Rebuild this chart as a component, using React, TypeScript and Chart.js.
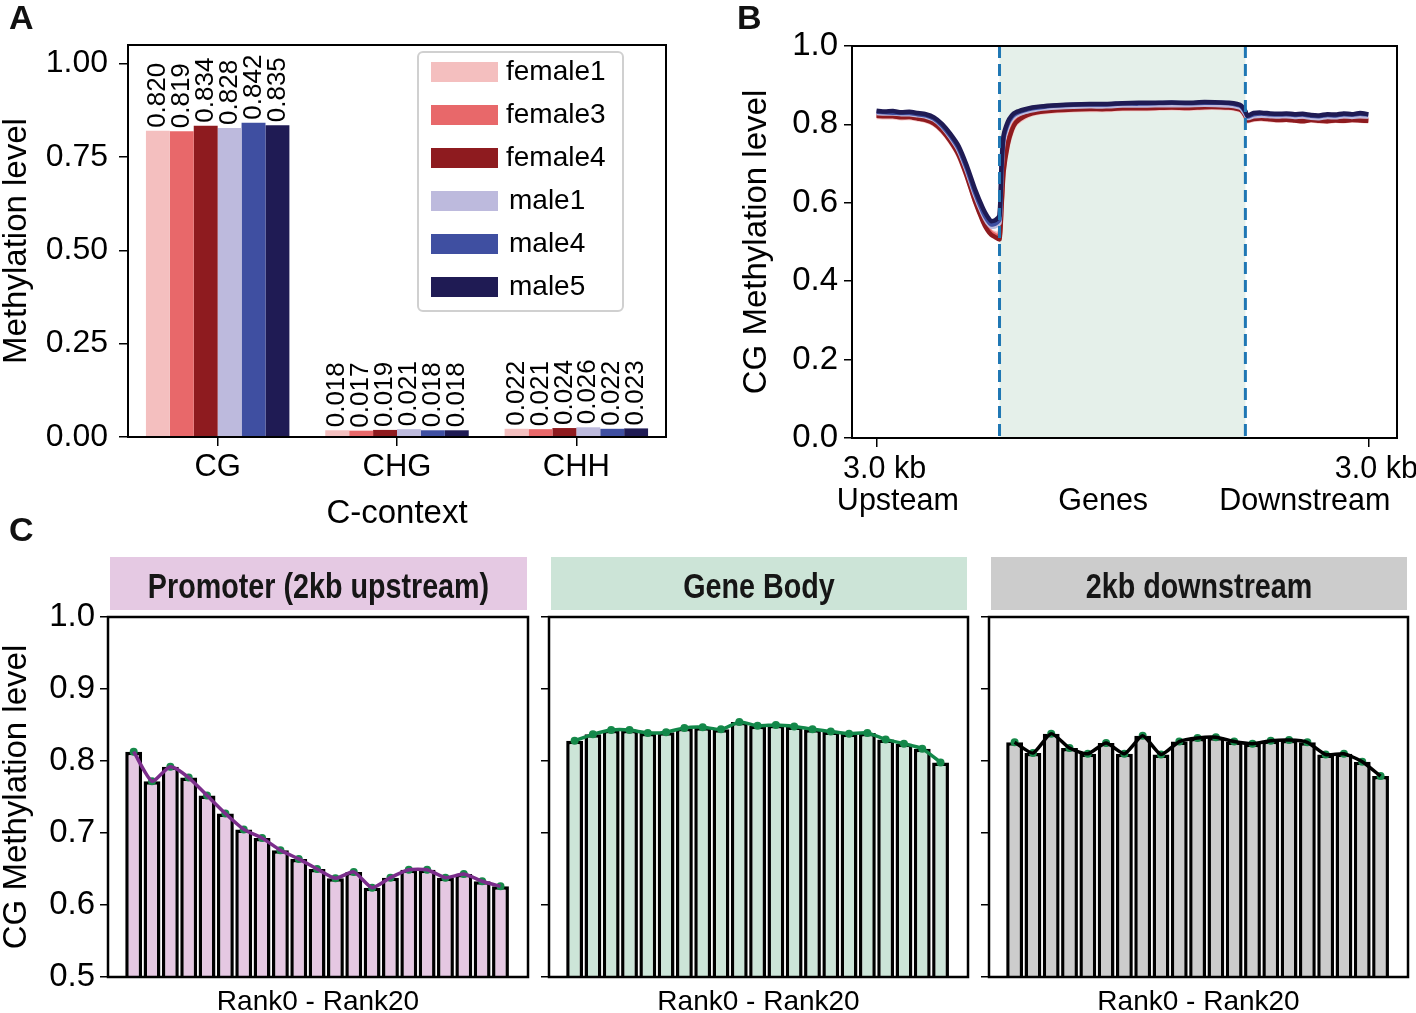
import React, { useEffect, useRef } from "react";
import { Chart, registerables } from "chart.js";

Chart.register(...registerables);

const FONT = "'Liberation Sans', Arial, Helvetica, sans-serif";

// ---------------- Panel A data ----------------
const CONTEXTS = ["CG", "CHG", "CHH"];
const SAMPLES = ["female1", "female3", "female4", "male1", "male4", "male5"];
const SAMPLE_COLORS = ["#f4bfbf", "#e8686a", "#8e1b1f", "#bdbadd", "#3f4fa1", "#1f1b54"];
const FEMALE1 = [0.820, 0.018, 0.022];
const FEMALE3 = [0.819, 0.017, 0.021];
const FEMALE4 = [0.834, 0.019, 0.024];
const MALE1 = [0.828, 0.021, 0.026];
const MALE4 = [0.842, 0.018, 0.022];
const MALE5 = [0.835, 0.018, 0.023];
const A_VALUES = [FEMALE1, FEMALE3, FEMALE4, MALE1, MALE4, MALE5];
const A_YTICKS = [0, 0.25, 0.5, 0.75, 1.0];

// ---------------- Panel B data ----------------
const B_X = [
  0, 2, 4, 6, 8, 10, 12, 14, 16, 18, 20, 22, 24, 26, 27, 28, 29, 30,
  30.5, 31, 32, 33, 34, 36, 38, 40,
  44, 48, 52, 56, 60, 64, 68, 72, 76, 80, 84, 86, 88, 89, 90,
  90.5, 92, 94, 96, 98, 100, 102, 104, 106, 108, 110, 112, 114, 116, 118, 120,
];
const B_FEMALE1 = [
  0.819, 0.818, 0.818, 0.816, 0.816, 0.813, 0.809, 0.800, 0.782, 0.755, 0.720, 0.667, 0.605, 0.555, 0.537, 0.526, 0.522, 0.520,
  0.595, 0.680, 0.745, 0.782, 0.802, 0.817, 0.826, 0.830,
  0.834, 0.836, 0.837, 0.837, 0.839, 0.839, 0.840, 0.841, 0.840, 0.842, 0.842, 0.841, 0.838, 0.834, 0.820,
  0.808, 0.812, 0.813, 0.811, 0.810, 0.811, 0.809, 0.808, 0.810, 0.808, 0.807, 0.809, 0.808, 0.810, 0.809, 0.808,
];
const B_FEMALE3 = [
  0.824, 0.823, 0.822, 0.820, 0.820, 0.817, 0.813, 0.804, 0.786, 0.759, 0.725, 0.672, 0.608, 0.556, 0.536, 0.523, 0.517, 0.512,
  0.600, 0.688, 0.753, 0.789, 0.808, 0.822, 0.830, 0.834,
  0.838, 0.840, 0.840, 0.841, 0.842, 0.843, 0.843, 0.844, 0.844, 0.845, 0.845, 0.844, 0.841, 0.837, 0.823,
  0.812, 0.816, 0.817, 0.815, 0.814, 0.815, 0.813, 0.812, 0.814, 0.812, 0.811, 0.813, 0.812, 0.814, 0.813, 0.812,
];
const B_FEMALE4 = [
  0.822, 0.821, 0.821, 0.818, 0.819, 0.815, 0.811, 0.802, 0.784, 0.757, 0.722, 0.668, 0.604, 0.551, 0.531, 0.518, 0.512, 0.507,
  0.590, 0.680, 0.748, 0.785, 0.805, 0.820, 0.828, 0.832,
  0.836, 0.838, 0.839, 0.839, 0.841, 0.841, 0.842, 0.843, 0.842, 0.844, 0.844, 0.843, 0.840, 0.836, 0.822,
  0.810, 0.814, 0.815, 0.813, 0.811, 0.812, 0.810, 0.808, 0.811, 0.809, 0.808, 0.810, 0.809, 0.811, 0.810, 0.809,
];
const B_MALE1 = [
  0.829, 0.828, 0.828, 0.826, 0.826, 0.823, 0.820, 0.812, 0.794, 0.767, 0.734, 0.682, 0.620, 0.569, 0.550, 0.539, 0.540, 0.549,
  0.680, 0.757, 0.795, 0.814, 0.823, 0.831, 0.836, 0.840,
  0.843, 0.845, 0.846, 0.846, 0.848, 0.848, 0.849, 0.849, 0.849, 0.850, 0.849, 0.848, 0.845, 0.841, 0.826,
  0.816, 0.821, 0.822, 0.821, 0.820, 0.821, 0.819, 0.820, 0.817, 0.816, 0.819, 0.818, 0.821, 0.819, 0.821, 0.820,
];
const B_MALE4 = [
  0.832, 0.831, 0.830, 0.829, 0.829, 0.826, 0.823, 0.815, 0.797, 0.771, 0.739, 0.688, 0.627, 0.576, 0.557, 0.545, 0.547, 0.558,
  0.690, 0.765, 0.801, 0.819, 0.828, 0.836, 0.841, 0.844,
  0.848, 0.850, 0.851, 0.851, 0.853, 0.853, 0.854, 0.855, 0.854, 0.855, 0.855, 0.854, 0.850, 0.846, 0.831,
  0.820, 0.826, 0.828, 0.826, 0.825, 0.826, 0.824, 0.825, 0.822, 0.821, 0.824, 0.823, 0.826, 0.825, 0.827, 0.825,
];
const B_MALE5 = [
  0.835, 0.833, 0.834, 0.831, 0.832, 0.829, 0.826, 0.818, 0.801, 0.776, 0.745, 0.695, 0.635, 0.585, 0.566, 0.553, 0.556, 0.568,
  0.700, 0.772, 0.806, 0.823, 0.831, 0.838, 0.843, 0.846,
  0.849, 0.851, 0.852, 0.852, 0.854, 0.855, 0.855, 0.856, 0.855, 0.857, 0.856, 0.855, 0.852, 0.848, 0.834,
  0.822, 0.829, 0.830, 0.828, 0.827, 0.828, 0.826, 0.827, 0.824, 0.823, 0.826, 0.825, 0.828, 0.826, 0.829, 0.826,
];
const B_SERIES = [B_FEMALE1, B_FEMALE3, B_FEMALE4, B_MALE1, B_MALE4, B_MALE5];
const B_YTICKS = [0, 0.2, 0.4, 0.6, 0.8, 1.0];
const B_XTICKS = [0, 120];
const B_XTICK_LABELS = ["3.0 kb", "3.0 kb"];
const B_GENE_START = 30;
const B_GENE_END = 90;
const B_REGION_POS = [5.2, 55.3, 104.5];
const B_REGION_LABELS = ["Upsteam", "Genes", "Downstream"];

// ---------------- Panel C data ----------------
const RANKS = [0, 1, 2, 3, 4, 5, 6, 7, 8, 9, 10, 11, 12, 13, 14, 15, 16, 17, 18, 19, 20];
const PROMOTER = [0.813, 0.772, 0.792, 0.777, 0.752, 0.727, 0.705, 0.693, 0.676, 0.664, 0.650, 0.637, 0.646, 0.624, 0.638, 0.649, 0.649, 0.638, 0.643, 0.633, 0.626];
const GENE_BODY = [0.828, 0.837, 0.843, 0.843, 0.839, 0.840, 0.846, 0.847, 0.844, 0.854, 0.849, 0.850, 0.848, 0.844, 0.841, 0.838, 0.839, 0.830, 0.824, 0.817, 0.798];
const DOWNSTREAM = [0.826, 0.811, 0.838, 0.818, 0.810, 0.825, 0.810, 0.835, 0.809, 0.827, 0.832, 0.833, 0.827, 0.824, 0.828, 0.829, 0.826, 0.809, 0.810, 0.799, 0.779];
const C_YTICKS = [0.5, 0.6, 0.7, 0.8, 0.9, 1.0];
const C_TITLES = ["Promoter (2kb upstream)", "Gene Body", "2kb downstream"];

// ---------------- plugins ----------------
const framePlugin = {
  id: "frame",
  afterDatasetsDraw(chart: any, _args: any, opts: any) {
    const { ctx, chartArea: a } = chart;
    ctx.save();
    ctx.strokeStyle = "#000";
    ctx.lineWidth = opts.width || 2;
    ctx.strokeRect(a.left, a.top, a.right - a.left, a.bottom - a.top);
    ctx.restore();
  },
};

const aValueLabels = {
  id: "aValueLabels",
  afterDatasetsDraw(chart: any) {
    const { ctx } = chart;
    ctx.save();
    ctx.fillStyle = "#000";
    ctx.font = `26px ${FONT}`;
    ctx.textAlign = "left";
    ctx.textBaseline = "middle";
    chart.data.datasets.forEach((ds: any, di: number) => {
      const meta = chart.getDatasetMeta(di);
      meta.data.forEach((bar: any, j: number) => {
        const v = ds.data[j];
        ctx.save();
        ctx.translate(bar.x, bar.y - 3);
        ctx.rotate(-Math.PI / 2);
        ctx.fillText(v.toFixed(3), 0, 0);
        ctx.restore();
      });
    });
    ctx.restore();
  },
};

const aLegend = {
  id: "aLegend",
  afterDraw(chart: any) {
    const { ctx, chartArea: a } = chart;
    const x0 = a.left + 290;
    const y0 = a.top + 7;
    const w = 205;
    const h = 259;
    ctx.save();
    ctx.fillStyle = "#fff";
    ctx.strokeStyle = "#d0d0d0";
    ctx.lineWidth = 2;
    ctx.beginPath();
    ctx.roundRect(x0, y0, w, h, 5);
    ctx.fill();
    ctx.stroke();
    ctx.font = `28px ${FONT}`;
    ctx.textAlign = "left";
    ctx.textBaseline = "middle";
    chart.data.datasets.forEach((ds: any, i: number) => {
      const cy = y0 + 20 + i * 43;
      ctx.fillStyle = ds.backgroundColor;
      ctx.fillRect(x0 + 13, cy - 10, 67, 20);
      ctx.fillStyle = "#000";
      ctx.fillText(ds.label, x0 + (i >= 3 ? 91 : 88), cy);
    });
    ctx.restore();
  },
};

const bShade = {
  id: "bShade",
  beforeDatasetsDraw(chart: any) {
    const { ctx, chartArea: a } = chart;
    const xs = chart.scales.x;
    const x1 = xs.getPixelForValue(B_GENE_START);
    const x2 = xs.getPixelForValue(B_GENE_END);
    ctx.save();
    ctx.fillStyle = "#e5f0ea";
    ctx.fillRect(x1, a.top, x2 - x1, a.bottom - a.top);
    ctx.restore();
  },
  afterDatasetsDraw(chart: any) {
    const { ctx, chartArea: a } = chart;
    const xs = chart.scales.x;
    ctx.save();
    ctx.strokeStyle = "#1f77b4";
    ctx.lineWidth = 3;
    ctx.setLineDash([12, 6]);
    [B_GENE_START, B_GENE_END].forEach((v) => {
      const x = xs.getPixelForValue(v);
      ctx.beginPath();
      ctx.moveTo(x, a.top);
      ctx.lineTo(x, a.bottom);
      ctx.stroke();
    });
    ctx.restore();
  },
  afterDraw(chart: any) {
    const { ctx, chartArea: a } = chart;
    const xs = chart.scales.x;
    ctx.save();
    ctx.fillStyle = "#000";
    ctx.font = `30.5px ${FONT}`;
    ctx.textAlign = "center";
    ctx.textBaseline = "alphabetic";
    B_XTICKS.forEach((v, i) => {
      ctx.fillText(B_XTICK_LABELS[i], xs.getPixelForValue(v) + 8, a.bottom + 40);
    });
    B_REGION_POS.forEach((v, i) => {
      ctx.fillText(B_REGION_LABELS[i], xs.getPixelForValue(v), a.bottom + 72);
    });
    ctx.restore();
  },
};

const stripPlugin = {
  id: "strip",
  afterDraw(chart: any, _args: any, opts: any) {
    const { ctx, chartArea: a } = chart;
    const x1 = a.left + 2;
    const x2 = a.right - 1;
    const y1 = a.top - 60;
    const y2 = a.top - 7;
    ctx.save();
    ctx.fillStyle = opts.color;
    ctx.fillRect(x1, y1, x2 - x1, y2 - y1);
    ctx.fillStyle = "#161616";
    ctx.font = `bold 35px ${FONT}`;
    ctx.textAlign = "center";
    ctx.textBaseline = "alphabetic";
    ctx.translate((x1 + x2) / 2, (y1 + y2) / 2 + 14);
    ctx.scale(0.82, 1);
    ctx.fillText(opts.text, 0, 0);
    ctx.restore();
  },
};

// ---------------- configs ----------------
function configA(): any {
  return {
    type: "bar",
    data: {
      labels: CONTEXTS,
      datasets: SAMPLES.map((s, i) => ({
        label: s,
        data: A_VALUES[i],
        backgroundColor: SAMPLE_COLORS[i],
        borderWidth: 0,
        barPercentage: 1,
        categoryPercentage: 0.8,
      })),
    },
    plugins: [framePlugin, aValueLabels, aLegend],
    options: {
      responsive: false,
      animation: false,
      devicePixelRatio: 1,
      layout: { padding: { left: 0, right: 34, top: 45, bottom: 0 } },
      plugins: { legend: { display: false }, tooltip: { enabled: false }, frame: { width: 2 } },
      scales: {
        x: {
          offset: true,
          grid: { display: true, drawOnChartArea: false, drawTicks: true, tickLength: 9, offset: false, color: "#000", lineWidth: 1.5 },
          border: { display: false },
          ticks: { color: "#000", font: { family: FONT, size: 31 }, padding: 3 },
          title: { display: true, text: "C-context", color: "#000", font: { family: FONT, size: 33, lineHeight: 1 }, padding: { top: 0, bottom: 10 } },
          afterFit: (s: any) => { s.height = 103; s.paddingLeft = 0; s.paddingRight = 0; },
        },
        y: {
          min: 0,
          max: 1.05,
          afterBuildTicks: (s: any) => { s.ticks = A_YTICKS.map((v) => ({ value: v })); },
          grid: { display: true, drawOnChartArea: false, drawTicks: true, tickLength: 9, color: "#000", lineWidth: 1.5 },
          border: { display: false },
          ticks: { color: "#000", font: { family: FONT, size: 32 }, padding: 11, callback: (v: any) => Number(v).toFixed(2) },
          title: { display: true, text: "Methylation level", color: "#000", font: { family: FONT, size: 33, lineHeight: 1 }, padding: { top: 0, bottom: 0 } },
          afterFit: (s: any) => { s.width = 128; },
        },
      },
    },
  };
}

function configB(): any {
  return {
    type: "line",
    data: {
      datasets: SAMPLES.map((s, i) => ({
        label: s,
        data: B_X.map((x, k) => ({ x, y: B_SERIES[i][k] })),
        borderColor: SAMPLE_COLORS[i],
        backgroundColor: SAMPLE_COLORS[i],
        borderWidth: 4.5,
        pointRadius: 0,
        tension: 0.2,
        order: 6 - i,
      })),
    },
    plugins: [bShade, framePlugin],
    options: {
      responsive: false,
      animation: false,
      devicePixelRatio: 1,
      layout: { padding: { left: 0, right: 19, top: 46, bottom: 0 } },
      plugins: { legend: { display: false }, tooltip: { enabled: false }, frame: { width: 2 } },
      scales: {
        x: {
          type: "linear",
          min: -6,
          max: 127,
          afterBuildTicks: (s: any) => { s.ticks = B_XTICKS.map((v) => ({ value: v })); },
          grid: { display: true, drawOnChartArea: false, drawTicks: true, tickLength: 9, color: "#000", lineWidth: 1.5 },
          border: { display: false },
          ticks: { display: false },
          afterFit: (s: any) => { s.height = 102; s.paddingLeft = 0; s.paddingRight = 0; },
        },
        y: {
          min: 0,
          max: 1,
          afterBuildTicks: (s: any) => { s.ticks = B_YTICKS.map((v) => ({ value: v })); },
          grid: { display: true, drawOnChartArea: false, drawTicks: true, tickLength: 8, color: "#000", lineWidth: 1.5 },
          border: { display: false },
          ticks: { color: "#000", font: { family: FONT, size: 33 }, padding: 6, callback: (v: any) => Number(v).toFixed(1) },
          title: { display: true, text: "CG Methylation level", color: "#000", font: { family: FONT, size: 33, lineHeight: 1 }, padding: { top: 10, bottom: 0 } },
          afterFit: (s: any) => { s.width = 122; },
        },
      },
    },
  };
}

function configC(values: number[], fill: string, lineColor: string, title: string, stripColor: string, first: boolean, padRight: number): any {
  return {
    type: "bar",
    data: {
      datasets: [
        {
          type: "line",
          data: RANKS.map((r, i) => ({ x: r, y: values[i] })),
          borderColor: lineColor,
          borderWidth: 3.5,
          pointRadius: 0,
          tension: 0.2,
          order: 0,
        },
        {
          type: "line",
          data: RANKS.map((r, i) => ({ x: r, y: values[i] })),
          showLine: false,
          pointRadius: 4,
          pointBorderWidth: 0,
          pointBackgroundColor: "#17894a",
          order: 1,
        },
        {
          type: "bar",
          data: RANKS.map((r, i) => ({ x: r, y: values[i] })),
          backgroundColor: fill,
          borderColor: "#000",
          borderWidth: 3.5,
          barPercentage: 0.92,
          categoryPercentage: 1,
          base: 0.5,
          order: 2,
        },
      ],
    },
    plugins: [framePlugin, stripPlugin],
    options: {
      responsive: false,
      animation: false,
      devicePixelRatio: 1,
      layout: { padding: { left: 0, right: padRight, top: 77, bottom: 0 } },
      plugins: {
        legend: { display: false },
        tooltip: { enabled: false },
        frame: { width: 2.5 },
        strip: { color: stripColor, text: title },
      },
      scales: {
        x: {
          type: "linear",
          offset: false,
          min: -1.4,
          max: 21.5,
          grid: { display: false },
          border: { display: false },
          ticks: { display: false },
          title: { display: true, text: "Rank0 - Rank20", color: "#000", font: { family: FONT, size: 28, lineHeight: 1 }, padding: { top: 0, bottom: 0 } },
          afterFit: (s: any) => { s.height = 39; s.paddingLeft = 0; s.paddingRight = 0; },
        },
        y: {
          min: 0.5,
          max: 1.0,
          afterBuildTicks: (s: any) => { s.ticks = C_YTICKS.map((v) => ({ value: v })); },
          grid: { display: true, drawOnChartArea: false, drawTicks: true, tickLength: 8, color: "#000", lineWidth: 1.5 },
          border: { display: false },
          ticks: { display: first, color: "#000", font: { family: FONT, size: 33 }, padding: 5, callback: (v: any) => Number(v).toFixed(1) },
          title: { display: first, text: "CG Methylation level", color: "#000", font: { family: FONT, size: 33, lineHeight: 1 }, padding: { top: 0, bottom: 0 } },
          afterFit: (s: any) => { s.width = first ? 108 : 9; },
        },
      },
    },
  };
}

const letterStyle: React.CSSProperties = {
  position: "absolute",
  fontFamily: FONT,
  fontWeight: "bold",
  fontSize: 34,
  lineHeight: "34px",
  color: "#111",
};

export default function App() {
  const aRef = useRef<HTMLCanvasElement>(null);
  const bRef = useRef<HTMLCanvasElement>(null);
  const c1Ref = useRef<HTMLCanvasElement>(null);
  const c2Ref = useRef<HTMLCanvasElement>(null);
  const c3Ref = useRef<HTMLCanvasElement>(null);

  useEffect(() => {
    Chart.defaults.font.family = FONT;
    Chart.defaults.color = "#000";
    const charts: Chart[] = [];
    charts.push(new Chart(aRef.current as HTMLCanvasElement, configA()));
    charts.push(new Chart(bRef.current as HTMLCanvasElement, configB()));
    charts.push(new Chart(c1Ref.current as HTMLCanvasElement, configC(PROMOTER, "#e5c8e2", "#7b2d8b", C_TITLES[0], "#e5c9e3", true, 12)));
    charts.push(new Chart(c2Ref.current as HTMLCanvasElement, configC(GENE_BODY, "#cce5d8", "#12884a", C_TITLES[1], "#cce4d7", false, 12)));
    charts.push(new Chart(c3Ref.current as HTMLCanvasElement, configC(DOWNSTREAM, "#cccccc", "#000000", C_TITLES[2], "#cccccc", false, 8)));
    return () => charts.forEach((c) => c.destroy());
  }, []);

  const cv = (left: number, top: number): React.CSSProperties => ({ position: "absolute", left, top });

  return (
    <div style={{ position: "absolute", left: 0, top: 0, width: 1416, height: 1013, overflow: "hidden", background: "#fff" }}>
      <canvas ref={aRef} width={700} height={540} style={cv(0, 0)} />
      <canvas ref={bRef} width={686} height={540} style={cv(730, 0)} />
      <canvas ref={c1Ref} width={540} height={476} style={cv(0, 540)} />
      <canvas ref={c2Ref} width={440} height={476} style={cv(540, 540)} />
      <canvas ref={c3Ref} width={436} height={476} style={cv(980, 540)} />
      <div style={{ ...letterStyle, left: 9, top: 0 }}>A</div>
      <div style={{ ...letterStyle, left: 737, top: 0 }}>B</div>
      <div style={{ ...letterStyle, left: 9, top: 512 }}>C</div>
    </div>
  );
}
